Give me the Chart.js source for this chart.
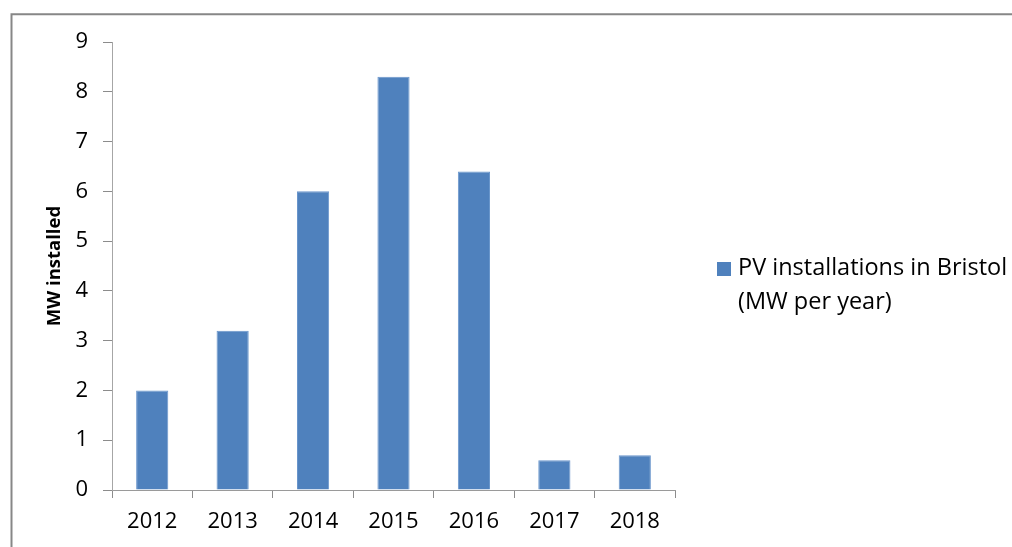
<!DOCTYPE html>
<html>
<head>
<meta charset="utf-8">
<script src="https://cdn.jsdelivr.net/npm/chart.js@4.4.1/dist/chart.umd.min.js"></script>
<style>
  html, body { margin: 0; padding: 0; background: #fff; }
  #wrap { width: 1012px; height: 547px; position: relative; }
</style>
</head>
<body>
<div id="wrap"><canvas id="c" width="1012" height="547"></canvas></div>
<script>
const categories = ['2012', '2013', '2014', '2015', '2016', '2017', '2018'];
const pvValues = [2.0, 3.2, 6.0, 8.3, 6.4, 0.6, 0.7];
const seriesLabel = 'PV installations in Bristol (MW per year)';
const yTitle = 'MW installed';
const yMin = 0, yMax = 9, yStep = 1;

const BAR = '#4F81BD';
const FONT = "'Open Sans', 'Liberation Sans', sans-serif";

const framePlugin = {
  id: 'frame',
  beforeDraw(chart) {
    const ctx = chart.ctx;
    ctx.save();
    ctx.strokeStyle = '#878787';
    ctx.lineWidth = 2;
    ctx.beginPath();
    ctx.moveTo(11.5, 700);
    ctx.lineTo(11.5, 14.3);
    ctx.lineTo(1100, 14.3);
    ctx.stroke();
    ctx.restore();
  }
};

const sideLegend = {
  id: 'sideLegend',
  afterDraw(chart) {
    const ctx = chart.ctx;
    const ds = chart.data.datasets[0];
    ctx.save();
    ctx.fillStyle = ds.backgroundColor;
    ctx.fillRect(717, 262, 14, 14);
    ctx.font = '23.5px ' + FONT;
    ctx.fillStyle = '#000';
    ctx.textBaseline = 'middle';
    ctx.textAlign = 'left';
    const words = ds.label.split(' ');
    const lines = [];
    let cur = '';
    for (const w of words) {
      const t = cur ? cur + ' ' + w : w;
      if (ctx.measureText(t).width > 275 && cur) { lines.push(cur); cur = w; }
      else cur = t;
    }
    if (cur) lines.push(cur);
    lines.forEach((l, i) => ctx.fillText(l, 738, 268 + i * 34));
    ctx.restore();
  }
};

new Chart(document.getElementById('c'), {
  type: 'bar',
  data: {
    labels: categories,
    datasets: [{
      label: seriesLabel,
      data: pvValues,
      backgroundColor: BAR,
      borderColor: '#6a96cc',
      borderWidth: 1,
      categoryPercentage: 1.0,
      barPercentage: 0.4
    }]
  },
  options: {
    responsive: false,
    animation: false,
    devicePixelRatio: 1,
    layout: { padding: { left: 0, top: 42, right: 337, bottom: 0 } },
    plugins: {
      legend: { display: false },
      tooltip: { enabled: false }
    },
    scales: {
      x: {
        afterFit(s) { s.height = 57; },
        grid: {
          offset: true,
          drawOnChartArea: false,
          color: '#8c8c8c',
          tickLength: 8
        },
        border: { color: '#9a9a9a', width: 1 },
        ticks: {
          color: '#000',
          padding: 11,
          font: { family: FONT, size: 22 }
        }
      },
      y: {
        min: yMin,
        max: yMax,
        afterFit(s) { s.width = 112; },
        grid: {
          drawOnChartArea: false,
          color: '#8c8c8c',
          tickLength: 9
        },
        border: { color: '#a6a6a6', width: 1 },
        ticks: {
          stepSize: yStep,
          color: '#000',
          padding: 15,
          font: { family: FONT, size: 22 }
        },
        title: {
          display: true,
          text: yTitle,
          color: '#000',
          padding: { top: 44, bottom: 0 },
          font: { family: FONT, size: 18.5, weight: 'bold' }
        }
      }
    }
  },
  plugins: [framePlugin, sideLegend]
});
</script>
</body>
</html>
